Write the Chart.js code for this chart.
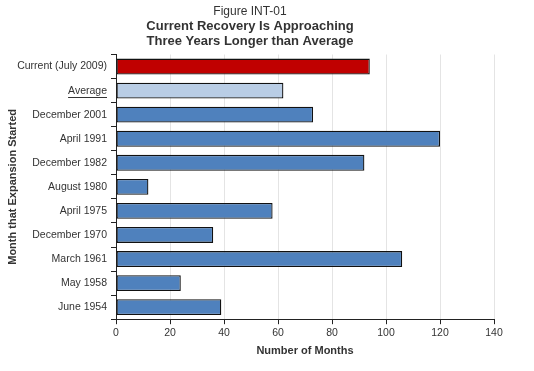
<!DOCTYPE html>
<html>
<head>
<meta charset="utf-8">
<script src="https://cdn.jsdelivr.net/npm/chart.js@4/dist/chart.umd.min.js"></script>
<style>
  html, body { margin: 0; padding: 0; background: #fff; }
  #wrap { width: 534px; height: 371px; }
</style>
</head>
<body>
<div id="wrap"><canvas id="recoveryChart"></canvas></div>
<script>
var categories = ["Current (July 2009)", "Average", "December 2001", "April 1991", "December 1982",
                  "August 1980", "April 1975", "December 1970", "March 1961", "May 1958", "June 1954"];
var months = [94, 62, 73, 120, 92, 12, 58, 36, 106, 24, 39];

var xTicksMax = 140;
var xTicksStep = 20;

var FONT = '"Liberation Sans", Arial, sans-serif';
var TEXT = '#333333';
var TICK_SIZE = 10.5;

var barColors = categories.map(function (c, i) {
    if (i === 0) return '#c00000';
    if (c === 'Average') return '#b9cde5';
    return '#4f81bd';
});

// Chart.js has no underlined tick text, so draw the line under "Average" by hand
var underlineAverage = {
    id: 'underlineAverage',
    afterDraw: function (chart) {
        var yScale = chart.scales.y;
        var idx = categories.indexOf('Average');
        var py = yScale.getPixelForTick(idx);
        var ctx = chart.ctx;
        ctx.save();
        ctx.font = TICK_SIZE + 'px ' + FONT;
        var w = ctx.measureText('Average').width;
        var right = yScale.right - 5 - 4;
        ctx.strokeStyle = TEXT;
        ctx.lineWidth = 1;
        ctx.beginPath();
        ctx.moveTo(right - w, Math.round(py + 6) + 0.5);
        ctx.lineTo(right, Math.round(py + 6) + 0.5);
        ctx.stroke();
        ctx.restore();
    }
};

var recoveryChart = new Chart(document.getElementById('recoveryChart'), {
    type: 'bar',
    data: {
        labels: categories,
        datasets: [{
            data: months,
            backgroundColor: barColors,
            borderColor: '#111111',
            borderWidth: 1.3,
            borderSkipped: false,
            categoryPercentage: 1,
            barPercentage: 0.66
        }]
    },
    options: {
        indexAxis: 'y',
        responsive: true,
        maintainAspectRatio: false,
        animation: false,
        layout: { padding: { top: 2, right: 40, bottom: 13, left: 6 } },
        plugins: {
            legend: { display: false },
            tooltip: { enabled: false },
            title: {
                display: true,
                text: 'Figure INT-01',
                color: TEXT,
                font: { family: FONT, size: 12, weight: 'normal' },
                padding: { top: 2, bottom: 1 }
            },
            subtitle: {
                display: true,
                text: ['Current Recovery Is Approaching', 'Three Years Longer than Average'],
                color: TEXT,
                font: { family: FONT, size: 13, weight: 'bold', lineHeight: 1.12 },
                padding: { top: 0, bottom: 6 }
            }
        },
        scales: {
            x: {
                min: 0,
                max: xTicksMax,
                ticks: { stepSize: xTicksStep, color: TEXT, font: { family: FONT, size: TICK_SIZE }, padding: 3 },
                grid: { color: '#e4e4e4', tickColor: '#222', tickLength: 5, drawTicks: true },
                border: { color: '#222', width: 1 },
                title: {
                    display: true,
                    text: 'Number of Months',
                    color: TEXT,
                    font: { family: FONT, size: 11, weight: 'bold' },
                    padding: { top: 2, bottom: 0 }
                }
            },
            y: {
                ticks: { color: TEXT, font: { family: FONT, size: TICK_SIZE }, padding: 4 },
                grid: { offset: true, drawOnChartArea: false, tickColor: '#222', tickLength: 5 },
                border: { color: '#222', width: 1 },
                title: {
                    display: true,
                    text: 'Month that Expansion Started',
                    color: TEXT,
                    font: { family: FONT, size: 11, weight: 'bold' },
                    padding: { top: 0, bottom: 4 }
                },
                afterFit: function (scale) { scale.width = 110; }
            }
        }
    },
    plugins: [underlineAverage]
});
</script>
</body>
</html>
